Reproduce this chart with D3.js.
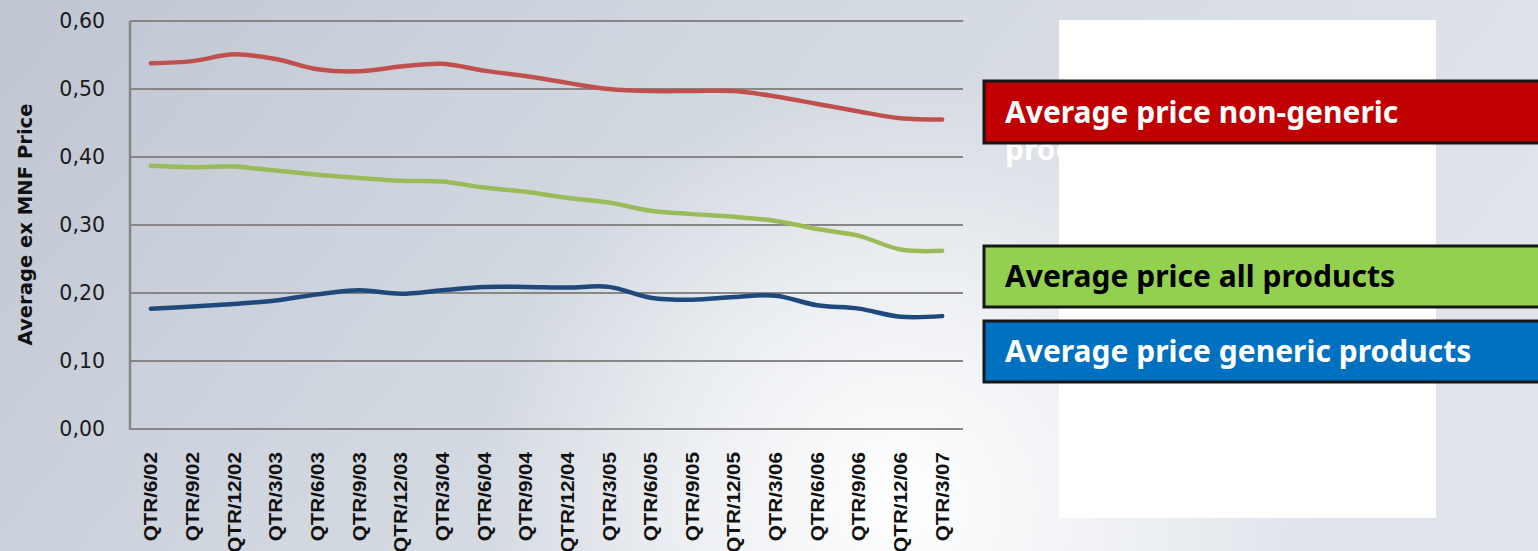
<!DOCTYPE html>
<html>
<head>
<meta charset="utf-8">
<script src="https://cdn.jsdelivr.net/npm/d3@7"></script>
<style>
  html, body { margin: 0; padding: 0; background: #d6dbe3; }
  svg { display: block; }
</style>
</head>
<body>
<svg id="chart" width="1538" height="551"></svg>
<script>
const categories = ["QTR/6/02","QTR/9/02","QTR/12/02","QTR/3/03","QTR/6/03","QTR/9/03","QTR/12/03","QTR/3/04","QTR/6/04","QTR/9/04","QTR/12/04","QTR/3/05","QTR/6/05","QTR/9/05","QTR/12/05","QTR/3/06","QTR/6/06","QTR/9/06","QTR/12/06","QTR/3/07"];
const nonGeneric  = [0.538,0.541,0.551,0.544,0.529,0.526,0.533,0.537,0.527,0.519,0.509,0.500,0.497,0.497,0.497,0.489,0.478,0.467,0.457,0.455];
const allProducts = [0.387,0.385,0.386,0.380,0.374,0.369,0.365,0.364,0.355,0.349,0.340,0.333,0.321,0.316,0.312,0.306,0.294,0.284,0.264,0.262];
const generic     = [0.177,0.180,0.184,0.189,0.198,0.204,0.199,0.204,0.209,0.209,0.208,0.209,0.193,0.190,0.194,0.196,0.182,0.177,0.165,0.166];
const yTicks = [0, 0.1, 0.2, 0.3, 0.4, 0.5, 0.6];
const yTitle = "Average ex MNF Price";
const seriesNames = ["Average price non-generic products", "Average price all products", "Average price generic products"];

const svg = d3.select("#chart");
const W = 1538, H = 551;

// background
const defs = svg.append("defs");
const lg = defs.append("linearGradient").attr("id","bg").attr("x1","0").attr("y1","0").attr("x2","1").attr("y2","0.3");
lg.append("stop").attr("offset","0").attr("stop-color","#bfc6d2");
lg.append("stop").attr("offset","0.45").attr("stop-color","#d2d8e0");
lg.append("stop").attr("offset","1").attr("stop-color","#dfe3ea");
const rg = defs.append("radialGradient").attr("id","glow").attr("gradientUnits","userSpaceOnUse")
  .attr("cx",900).attr("cy",500).attr("r",420);
rg.append("stop").attr("offset","0").attr("stop-color","#ffffff").attr("stop-opacity",1);
rg.append("stop").attr("offset","0.5").attr("stop-color","#ffffff").attr("stop-opacity",0.55);
rg.append("stop").attr("offset","1").attr("stop-color","#ffffff").attr("stop-opacity",0);
svg.append("rect").attr("width",W).attr("height",H).attr("fill","url(#bg)");
svg.append("rect").attr("width",W).attr("height",H).attr("fill","url(#glow)");

// white panel behind legend
svg.append("rect").attr("x",1059).attr("y",20).attr("width",377).attr("height",498).attr("fill","#ffffff");

// scales
const x = d3.scalePoint().domain(categories).range([130, 963]).padding(0.5);
const y = d3.scaleLinear().domain([0, 0.6]).range([429, 21]);
const fmt = v => d3.format(".2f")(v).replace(".", ",");

// gridlines
svg.append("g").selectAll("line").data(yTicks).join("line")
  .attr("x1",130).attr("x2",963)
  .attr("y1",d=>y(d)).attr("y2",d=>y(d))
  .attr("stroke","#868686").attr("stroke-width",2);
// left axis line
svg.append("line").attr("x1",130).attr("x2",130).attr("y1",y(0.6)).attr("y2",y(0)+1)
  .attr("stroke","#868686").attr("stroke-width",2.5);

// y tick labels
svg.append("g").selectAll("text").data(yTicks).join("text")
  .attr("x",105).attr("y",d=>y(d)).attr("dy","0.36em")
  .attr("text-anchor","end")
  .attr("font-family","DejaVu Sans, sans-serif").attr("font-size",20.5)
  .attr("fill","#1a1a1a")
  .text(fmt);

// y title
svg.append("text")
  .attr("transform","translate(32,224.5) rotate(-90)")
  .attr("text-anchor","middle")
  .attr("font-family","DejaVu Sans, sans-serif").attr("font-weight","bold").attr("font-size",19.6)
  .attr("fill","#111")
  .text(yTitle);

// x labels
svg.append("g").selectAll("text").data(categories).join("text")
  .attr("transform",d=>`translate(${x(d)},452) rotate(-90) scale(1,0.88)`)
  .attr("dy","0.36em")
  .attr("text-anchor","end")
  .attr("font-family","Liberation Sans, Arial, sans-serif").attr("font-weight","bold").attr("font-size",20.6)
  .attr("fill","#111")
  .text(d=>d);

// lines
const series = [
  {values: nonGeneric, color: "#c0504d"},
  {values: allProducts, color: "#9bbb59"},
  {values: generic, color: "#1f497d"}
];
const line = d3.line().x((d,i)=>x(categories[i])).y(d=>y(d)).curve(d3.curveCatmullRom.alpha(0.5));
svg.append("g").selectAll("path").data(series).join("path")
  .attr("d",d=>line(d.values))
  .attr("fill","none").attr("stroke",d=>d.color).attr("stroke-width",4.5)
  .attr("stroke-linecap","round").attr("stroke-linejoin","round");

// legend boxes
const legend = [
  {name: seriesNames[0], fill: "#c00000", text: "#ffffff", y0: 81, y1: 143},
  {name: seriesNames[1], fill: "#92d050", text: "#000000", y0: 246, y1: 307},
  {name: seriesNames[2], fill: "#0070c0", text: "#ffffff", y0: 321, y1: 382}
];
const legFont = "Noto Sans, sans-serif";
const lgG = svg.append("g");
// wrapped second line of the first legend label sits beneath its box
const wrapLine = lgG.append("text").attr("x",1005).attr("y",160)
  .attr("font-family",legFont).attr("font-weight","bold").attr("fill",legend[0].text)
  .text("products");
lgG.selectAll("rect").data(legend).join("rect")
  .attr("x",984).attr("y",d=>d.y0).attr("width",600).attr("height",d=>d.y1-d.y0)
  .attr("fill",d=>d.fill).attr("stroke","#161616").attr("stroke-width",3);

const t0 = lgG.append("text").attr("x",1005).attr("y",123)
  .attr("font-family",legFont).attr("font-weight","bold").attr("fill",legend[0].text)
  .text("Average price non-generic");
const t1 = lgG.append("text").attr("x",1005).attr("y",286.5)
  .attr("font-family",legFont).attr("font-weight","bold").attr("fill",legend[1].text)
  .text(legend[1].name);
const t2 = lgG.append("text").attr("x",1005).attr("y",361.5)
  .attr("font-family",legFont).attr("font-weight","bold").attr("fill",legend[2].text)
  .text(legend[2].name);
// fit legend font so "Average price all products" spans ~390px
t1.attr("font-size",27);
const w1 = t1.node().getComputedTextLength();
const fs = Math.max(20, Math.min(34, 27 * 390 / w1));
[wrapLine, t0, t1, t2].forEach(t => t.attr("font-size", fs));
</script>
</body>
</html>
